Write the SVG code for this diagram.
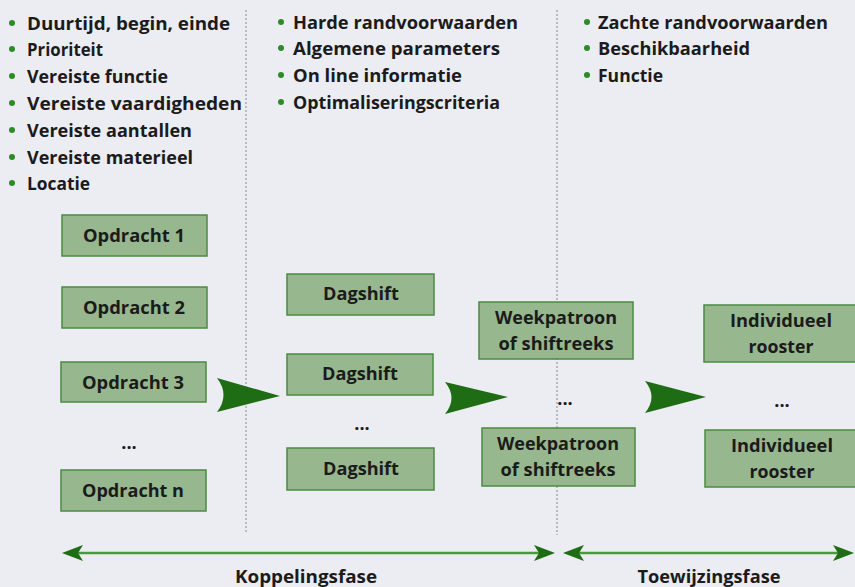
<svg xmlns="http://www.w3.org/2000/svg" width="855" height="587" viewBox="0 0 855 587">
<defs>
<style>
.bg{fill:#ececf3}
.t{font-family:"Open Sans","Liberation Sans",sans-serif;font-weight:bold;font-size:18px;fill:#1b1b1b}
.c{text-anchor:middle}
.box{fill:#97b78f;stroke:#4b8b40;stroke-width:1.5}
.bul{fill:#2f8a2a}
.dash{stroke:#8a8a8a;stroke-width:1;stroke-dasharray:2,2;fill:none}
.arr{fill:#1e6d14}
.ln{stroke:#4a9a3c;stroke-width:2.5;fill:none}
</style>
</defs>
<rect class="bg" x="0" y="0" width="855" height="587"/>

<g id="list-left">
<circle class="bul" cx="12" cy="23" r="3"/><text class="t" x="27" y="30" textLength="203" lengthAdjust="spacingAndGlyphs">Duurtijd, begin, einde</text>
<circle class="bul" cx="12" cy="49" r="3"/><text class="t" x="27" y="56" textLength="76" lengthAdjust="spacingAndGlyphs">Prioriteit</text>
<circle class="bul" cx="12" cy="76" r="3"/><text class="t" x="27" y="83" textLength="141" lengthAdjust="spacingAndGlyphs">Vereiste functie</text>
<circle class="bul" cx="12" cy="103" r="3"/><text class="t" x="27" y="110" textLength="215" lengthAdjust="spacingAndGlyphs">Vereiste vaardigheden</text>
<circle class="bul" cx="12" cy="130" r="3"/><text class="t" x="27" y="137" textLength="165" lengthAdjust="spacingAndGlyphs">Vereiste aantallen</text>
<circle class="bul" cx="12" cy="157" r="3"/><text class="t" x="27" y="164" textLength="166" lengthAdjust="spacingAndGlyphs">Vereiste materieel</text>
<circle class="bul" cx="12" cy="183" r="3"/><text class="t" x="27" y="190" textLength="63" lengthAdjust="spacingAndGlyphs">Locatie</text>
</g>

<g id="list-middle">
<circle class="bul" cx="281" cy="22" r="3"/><text class="t" x="293" y="29" textLength="225" lengthAdjust="spacingAndGlyphs">Harde randvoorwaarden</text>
<circle class="bul" cx="281" cy="48" r="3"/><text class="t" x="293" y="55" textLength="207" lengthAdjust="spacingAndGlyphs">Algemene parameters</text>
<circle class="bul" cx="281" cy="75" r="3"/><text class="t" x="293" y="82" textLength="169" lengthAdjust="spacingAndGlyphs">On line informatie</text>
<circle class="bul" cx="281" cy="102" r="3"/><text class="t" x="293" y="109" textLength="207" lengthAdjust="spacingAndGlyphs">Optimaliseringscriteria</text>
</g>

<g id="list-right">
<circle class="bul" cx="587" cy="22" r="3"/><text class="t" x="598" y="29" textLength="230" lengthAdjust="spacingAndGlyphs">Zachte randvoorwaarden</text>
<circle class="bul" cx="587" cy="48" r="3"/><text class="t" x="598" y="55" textLength="152" lengthAdjust="spacingAndGlyphs">Beschikbaarheid</text>
<circle class="bul" cx="587" cy="75" r="3"/><text class="t" x="598" y="82" textLength="65" lengthAdjust="spacingAndGlyphs">Functie</text>
</g>

<g id="dividers">
<line class="dash" x1="246" y1="10" x2="246" y2="532"/>
<line class="dash" x1="557" y1="10" x2="557" y2="535"/>
</g>

<g id="opdracht1"><rect class="box" x="62" y="215" width="145" height="41"/><text class="t c" x="134" y="242" textLength="102" lengthAdjust="spacingAndGlyphs">Opdracht 1</text></g>
<g id="opdracht2"><rect class="box" x="62" y="287" width="145" height="41"/><text class="t c" x="134" y="314" textLength="102" lengthAdjust="spacingAndGlyphs">Opdracht 2</text></g>
<g id="opdracht3"><rect class="box" x="61" y="362" width="145" height="40"/><text class="t c" x="133" y="389" textLength="102" lengthAdjust="spacingAndGlyphs">Opdracht 3</text></g>
<g id="opdracht-dots"><text class="t c" x="129" y="449">...</text></g>
<g id="opdrachtn"><rect class="box" x="61" y="470" width="145" height="41"/><text class="t c" x="133" y="497" textLength="102" lengthAdjust="spacingAndGlyphs">Opdracht n</text></g>

<g id="dagshift1"><rect class="box" x="287" y="274" width="147" height="41"/><text class="t c" x="361" y="300" textLength="76" lengthAdjust="spacingAndGlyphs">Dagshift</text></g>
<g id="dagshift2"><rect class="box" x="287" y="354" width="146" height="41"/><text class="t c" x="360" y="380" textLength="76" lengthAdjust="spacingAndGlyphs">Dagshift</text></g>
<g id="dagshift-dots"><text class="t c" x="362" y="430">...</text></g>
<g id="dagshift3"><rect class="box" x="287" y="448" width="147" height="42"/><text class="t c" x="361" y="475" textLength="76" lengthAdjust="spacingAndGlyphs">Dagshift</text></g>

<g id="week1"><rect class="box" x="479" y="302" width="154" height="57"/><text class="t c" x="556" y="324" textLength="122" lengthAdjust="spacingAndGlyphs">Weekpatroon</text><text class="t c" x="556" y="350" textLength="115" lengthAdjust="spacingAndGlyphs">of shiftreeks</text></g>
<g id="week-dots"><text class="t c" x="565" y="405">...</text></g>
<g id="week2"><rect class="box" x="482" y="428" width="153" height="58"/><text class="t c" x="558" y="450" textLength="122" lengthAdjust="spacingAndGlyphs">Weekpatroon</text><text class="t c" x="558" y="476" textLength="115" lengthAdjust="spacingAndGlyphs">of shiftreeks</text></g>

<g id="rooster1"><rect class="box" x="704" y="305" width="152" height="57"/><text class="t c" x="781" y="327" textLength="102" lengthAdjust="spacingAndGlyphs">Individueel</text><text class="t c" x="781" y="353" textLength="65" lengthAdjust="spacingAndGlyphs">rooster</text></g>
<g id="rooster-dots"><text class="t c" x="782" y="407">...</text></g>
<g id="rooster2"><rect class="box" x="705" y="430" width="152" height="57"/><text class="t c" x="782" y="452" textLength="102" lengthAdjust="spacingAndGlyphs">Individueel</text><text class="t c" x="782" y="478" textLength="65" lengthAdjust="spacingAndGlyphs">rooster</text></g>

<g id="connectors">
<path class="arr" d="M217,378 L280,396 L217,412 Q230,395 217,378 Z"/>
<path class="arr" d="M445,382 L508,397 L445,414 Q458,398 445,382 Z"/>
<path class="arr" d="M645,381 L706,397 L645,413 Q658,397 645,381 Z"/>
<line class="ln" x1="72" y1="553" x2="544" y2="553"/>
<path class="arr" d="M62,553 L83,545 L78,553 L83,561 Z"/>
<path class="arr" d="M555,553 L534,545 L539,553 L534,561 Z"/>
<line class="ln" x1="574" y1="553" x2="843" y2="553"/>
<path class="arr" d="M563,553 L584,545 L579,553 L584,561 Z"/>
<path class="arr" d="M854,553 L833,545 L838,553 L833,561 Z"/>
</g>

<g id="phase-labels">
<text class="t c" x="306" y="583" textLength="142" lengthAdjust="spacingAndGlyphs">Koppelingsfase</text>
<text class="t c" x="709" y="583" textLength="143" lengthAdjust="spacingAndGlyphs">Toewijzingsfase</text>
</g>
</svg>
